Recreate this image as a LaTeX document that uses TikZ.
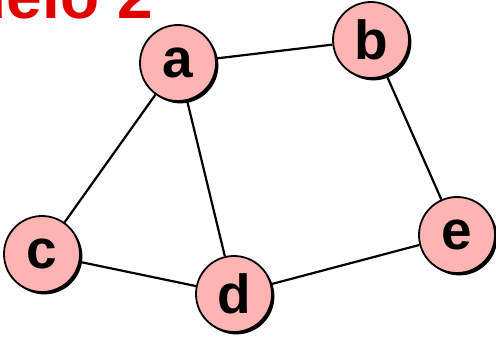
\documentclass[tikz,border=0pt]{standalone}
\usepackage{fontspec}
\setmainfont{Liberation Sans}
\usetikzlibrary{shadows}
\definecolor{nodepink}{RGB}{255,180,180}
\definecolor{titlered}{RGB}{225,0,0}
\begin{document}
\begin{tikzpicture}[x=1pt,y=-1pt,
  nd/.style={circle, draw=black, line width=1.8pt, fill=nodepink, minimum size=76pt, inner sep=0pt,
    font=\fontsize{55}{55}\selectfont\bfseries,
    drop shadow={shadow xshift=2.4pt, shadow yshift=-2.4pt, fill=black, opacity=1}},
  edge/.style={line width=2.2pt, black}]
\useasboundingbox (0,0) rectangle (496,337);
\clip (0,0) rectangle (496,337);
\node[anchor=base east, inner sep=0pt, text=titlered, font=\fontsize{64}{64}\selectfont\bfseries] (title) at (153,19) {Modelo 2};
\node[nd] (a) at (178,63) {a};
\node[nd] (b) at (371,40) {b};
\node[nd] (c) at (42,254) {c};
\node[nd] (d) at (234,294) {d};
\node[nd] (e) at (457,235) {e};
\draw[edge] (a) -- (b);
\draw[edge] (a) -- (c);
\draw[edge] (a) -- (d);
\draw[edge] (b) -- (e);
\draw[edge] (c) -- (d);
\draw[edge] (d) -- (e);
\end{tikzpicture}
\end{document}
